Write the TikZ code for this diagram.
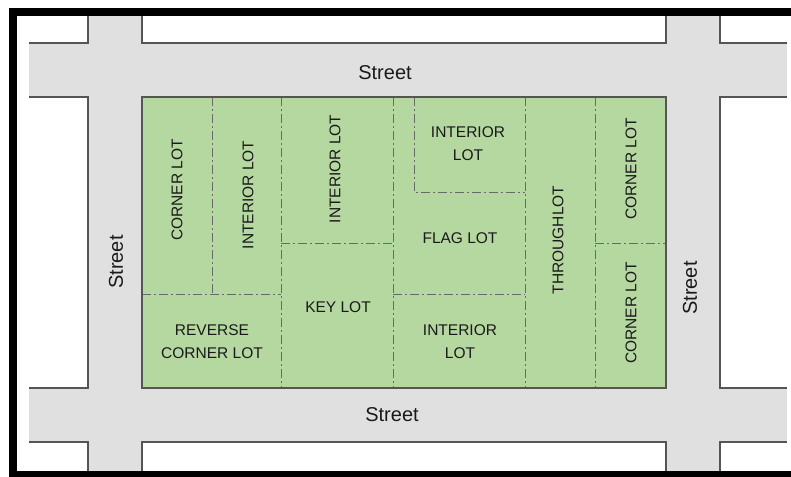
\documentclass[tikz,border=0pt]{standalone}
\usepackage{fontspec}
\setmainfont{Liberation Sans}
\usetikzlibrary{positioning}
\definecolor{lotgreen}{RGB}{181, 215, 160}
\definecolor{roadgray}{RGB}{224, 224, 224}
\definecolor{curbgray}{RGB}{85, 85, 85}
\definecolor{lotlinegray}{RGB}{105, 105, 105}
\definecolor{inkblack}{RGB}{26, 26, 26}

\begin{document}
\begin{tikzpicture}[
  x=1pt, y=-1pt,
  road/.style={fill=roadgray, draw=none},
  curb/.style={draw=curbgray, line width=2pt},
  lotline/.style={draw=lotlinegray, line width=1pt, dash pattern=on 9pt off 3pt on 2pt off 3pt},
  lotlbl/.style={font=\fontsize{15.5}{23}\selectfont, text=inkblack, align=center, inner sep=0pt},
  streetlbl/.style={font=\fontsize{20}{24}\selectfont, text=inkblack, inner sep=0pt}
]
  \useasboundingbox (0,0) rectangle (791,476);
  \clip (0,0) rectangle (791,476);

  % streets
  \fill[road] (29,43) rectangle (787,97);
  \fill[road] (29,388) rectangle (787,442);
  \fill[road] (88,16) rectangle (142,471);
  \fill[road] (666,16) rectangle (720,471);

  % block outlines
  \draw[curb] (88,16) -- (88,43) -- (29,43);
  \draw[curb] (142,16) -- (142,43) -- (666,43) -- (666,16);
  \draw[curb] (720,16) -- (720,43) -- (787,43);
  \draw[curb] (29,97) -- (88,97) -- (88,388) -- (29,388);
  \draw[curb] (787,97) -- (720,97) -- (720,388) -- (787,388);
  \draw[curb] (29,442) -- (88,442) -- (88,471);
  \draw[curb] (142,471) -- (142,442) -- (666,442) -- (666,471);
  \draw[curb] (720,471) -- (720,442) -- (787,442);

  % lots
  \fill[lotgreen] (142,97) rectangle (666,388);
  \draw[lotline] (212,97) -- (212,294);
  \draw[lotline] (142,294) -- (281,294);
  \draw[lotline] (281,97) -- (281,388);
  \draw[lotline] (281,243) -- (393,243);
  \draw[lotline] (393,97) -- (393,388);
  \draw[lotline] (414,97) -- (414,192) -- (525,192);
  \draw[lotline] (393,294) -- (525,294);
  \draw[lotline] (525,97) -- (525,388);
  \draw[lotline] (595,97) -- (595,388);
  \draw[lotline] (595,243) -- (666,243);
  \draw[curb] (142,97) rectangle (666,388);

  \node[lotlbl, rotate=90] (corner1) at (177,190) {CORNER LOT};
  \node[lotlbl, rotate=90] (interior1) at (248,195) {INTERIOR LOT};
  \node[lotlbl, rotate=90] (interior2) at (335,169) {INTERIOR LOT};
  \node[lotlbl] (keylot) at (338,307) {KEY LOT};
  \node[lotlbl] (revcorner) at (212,342) {REVERSE\\CORNER LOT};
  \node[lotlbl] (interior3) at (468,144) {INTERIOR\\LOT};
  \node[lotlbl] (flaglot) at (460,238) {FLAG LOT};
  \node[lotlbl] (interior4) at (460,342) {INTERIOR\\LOT};
  \node[lotlbl, rotate=90] (through) at (558,240) {THROUGHLOT};
  \node[lotlbl, rotate=90] (corner2) at (631,169) {CORNER LOT};
  \node[lotlbl, rotate=90] (corner3) at (631,313) {CORNER LOT};

  \node[streetlbl] (streettop) at (385,73) {Street};
  \node[streetlbl] (streetbot) at (392,415) {Street};
  \node[streetlbl, rotate=90] (streetleft) at (116,262) {Street};
  \node[streetlbl, rotate=90] (streetright) at (690,288) {Street};

  % frame
  \draw[line width=8pt] (810,12) -- (13,12) -- (13,475) -- (810,475);
\end{tikzpicture}
\end{document}
